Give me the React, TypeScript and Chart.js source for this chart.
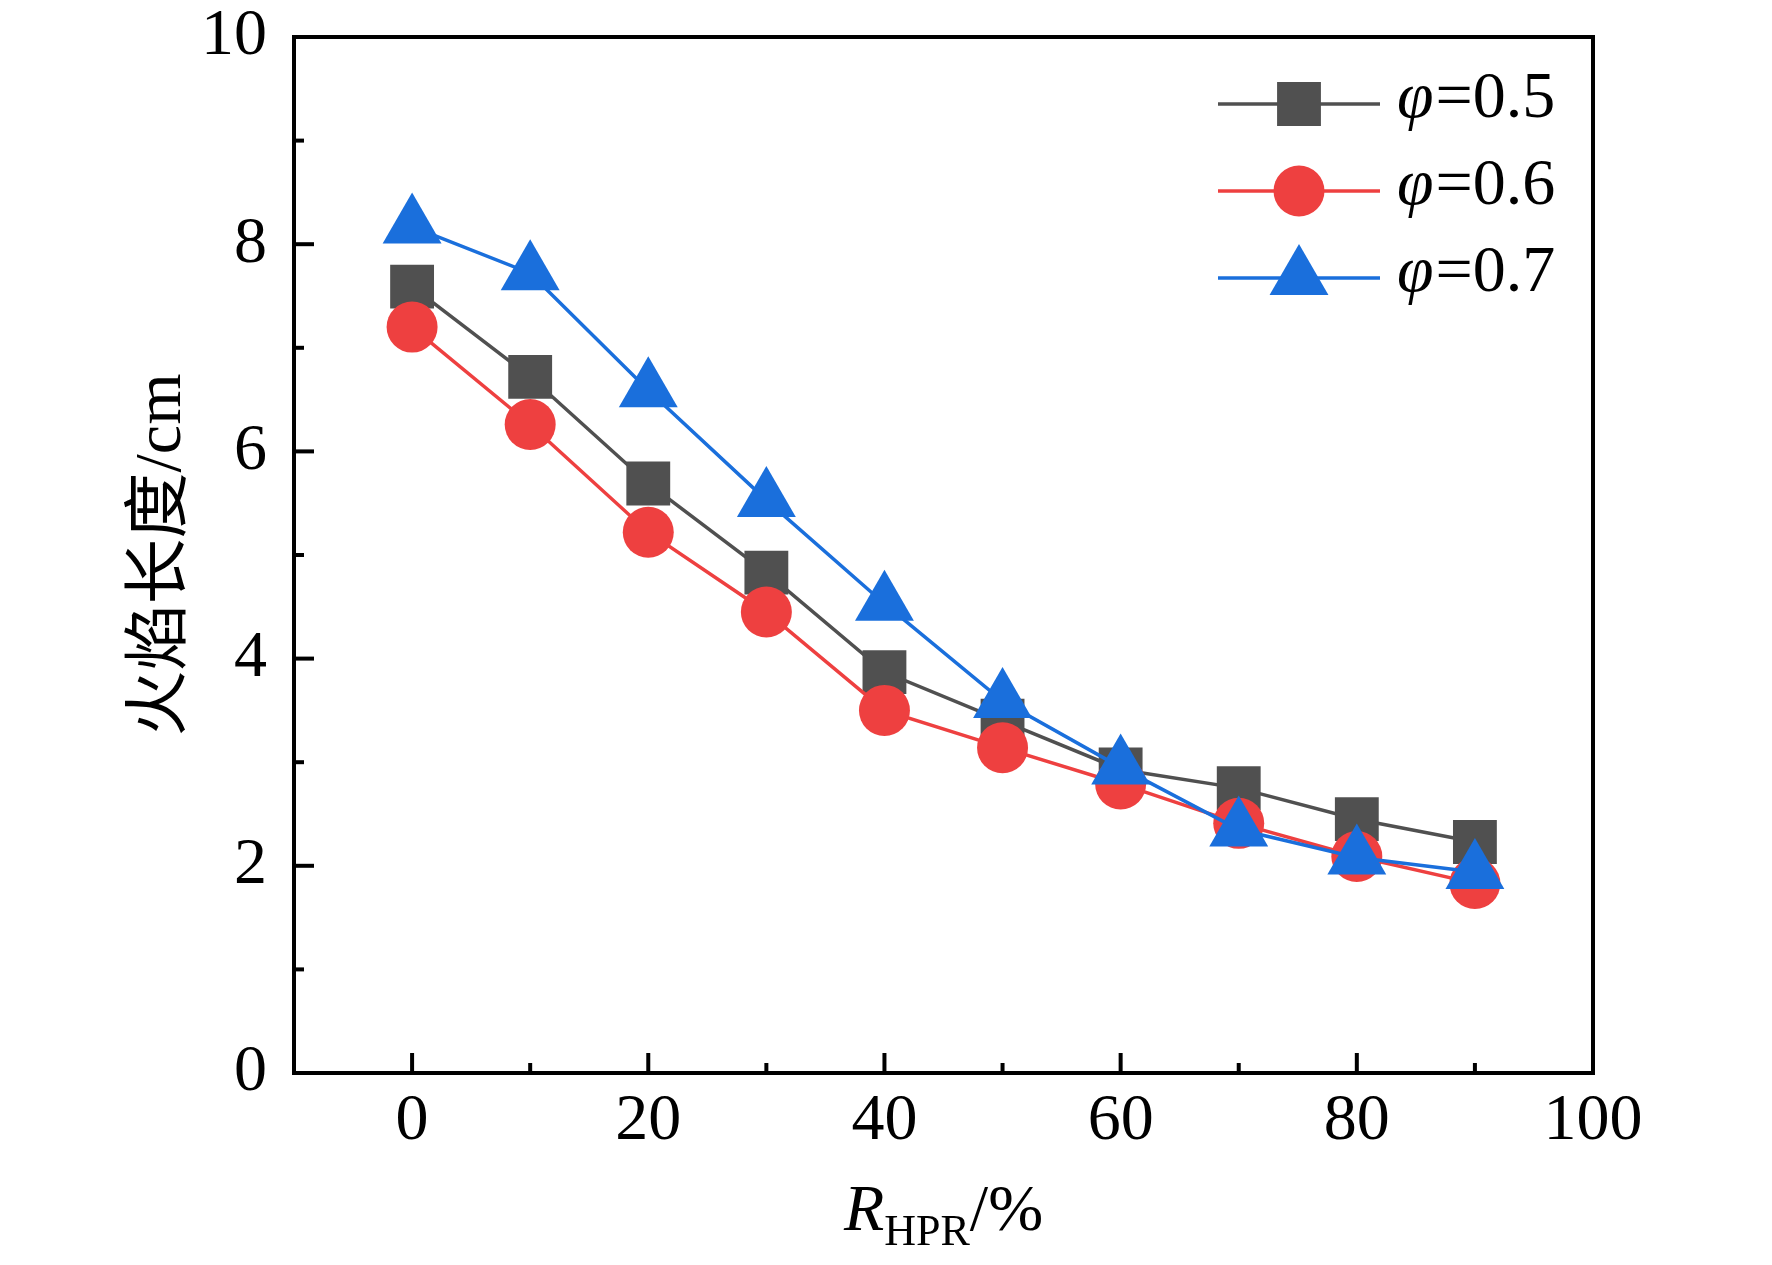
import { useEffect, useRef } from 'react';
import { Chart, registerables } from 'chart.js';
import { drawPoint } from 'chart.js/helpers';

Chart.register(...registerables);

// R_HPR (%) on the x axis
const hprRatios = [0, 10, 20, 30, 40, 50, 60, 70, 80, 90];

// flame length (cm)
const flamePhi05 = [7.59, 6.72, 5.69, 4.83, 3.87, 3.40, 2.93, 2.75, 2.45, 2.23];
const flamePhi06 = [7.20, 6.26, 5.22, 4.45, 3.50, 3.14, 2.79, 2.41, 2.09, 1.83];
const flamePhi07 = [8.17, 7.72, 6.59, 5.53, 4.53, 3.59, 2.95, 2.35, 2.08, 1.94];

const seriesLabels = ['φ=0.5', 'φ=0.6', 'φ=0.7'];
const xTickLabels = ['0', '20', '40', '60', '80', '100'];
const yTickLabels = ['0', '2', '4', '6', '8', '10'];

const SERIF = '"Liberation Serif", "Times New Roman", serif';
const CJK = '"Liberation Serif", "Noto Sans CJK SC", serif';

const framePlugin = {
  id: 'originFrame',
  afterDraw(chart: any) {
    const { ctx, chartArea: a } = chart;
    const xs = chart.scales.x;
    const ys = chart.scales.y;
    ctx.save();
    ctx.strokeStyle = '#000';
    ctx.lineWidth = 4;
    ctx.lineCap = 'butt';

    // inward ticks, long where a label is shown
    xs.ticks.forEach((t: any) => {
      const len = t.label !== '' ? 20 : 10;
      const p = xs.getPixelForValue(t.value);
      ctx.beginPath();
      ctx.moveTo(p, a.bottom);
      ctx.lineTo(p, a.bottom - len);
      ctx.stroke();
    });
    ys.ticks.forEach((t: any) => {
      const len = t.label !== '' ? 20 : 10;
      const p = ys.getPixelForValue(t.value);
      ctx.beginPath();
      ctx.moveTo(a.left, p);
      ctx.lineTo(a.left + len, p);
      ctx.stroke();
    });

    ctx.lineJoin = 'miter';
    ctx.strokeRect(a.left, a.top, a.right - a.left, a.bottom - a.top);

    // y title
    ctx.fillStyle = '#000';
    ctx.save();
    ctx.translate(163, (a.top + a.bottom) / 2);
    ctx.rotate(-Math.PI / 2);
    ctx.font = `66px ${CJK}`;
    ctx.textAlign = 'center';
    ctx.textBaseline = 'middle';
    ctx.fillText('火焰长度/cm', 0, 0);
    ctx.restore();

    // x title: R with subscript HPR
    const base = 1230;
    ctx.textBaseline = 'alphabetic';
    ctx.textAlign = 'left';
    ctx.font = `italic 66px ${SERIF}`;
    const wR = ctx.measureText('R').width;
    ctx.font = `44px ${SERIF}`;
    const wSub = ctx.measureText('HPR').width;
    ctx.font = `66px ${SERIF}`;
    const wTail = ctx.measureText('/%').width;
    let x = (a.left + a.right) / 2 - (wR + wSub + wTail) / 2;
    ctx.font = `italic 66px ${SERIF}`;
    ctx.fillText('R', x, base);
    x += wR;
    ctx.font = `44px ${SERIF}`;
    ctx.fillText('HPR', x, base + 15);
    x += wSub;
    ctx.font = `66px ${SERIF}`;
    ctx.fillText('/%', x, base);

    // legend
    chart.data.datasets.forEach((ds: any, i: number) => {
      const y = 104 + i * 87;
      ctx.strokeStyle = ds.borderColor;
      ctx.lineWidth = ds.borderWidth;
      ctx.beginPath();
      ctx.moveTo(1218, y);
      ctx.lineTo(1380, y);
      ctx.stroke();
      ctx.fillStyle = ds.pointBackgroundColor;
      drawPoint(ctx, { pointStyle: ds.pointStyle, radius: ds.pointRadius, rotation: 0, borderWidth: 0 } as any, 1299, y);
      ctx.fillStyle = '#000';
      const label: string = ds.label;
      let tx = 1397;
      ctx.font = `italic 66px ${SERIF}`;
      ctx.fillText(label[0], tx, y + 13);
      tx += ctx.measureText(label[0]).width + 2;
      ctx.font = `66px ${SERIF}`;
      ctx.fillText(label.slice(1), tx, y + 13);
    });
    ctx.restore();
  },
};

export default function App() {
  const canvasRef = useRef<HTMLCanvasElement>(null);
  const chartRef = useRef<Chart | null>(null);

  useEffect(() => {
    if (!canvasRef.current) return;
    const ctx = canvasRef.current.getContext('2d');
    if (!ctx) return;

    if (chartRef.current) chartRef.current.destroy();

    const series = [
      { values: flamePhi05, color: '#505050', style: 'rect', radius: 31, order: 3 },
      { values: flamePhi06, color: '#ee4040', style: 'circle', radius: 25.5, order: 2 },
      { values: flamePhi07, color: '#1a6fdc', style: 'triangle', radius: 34, order: 1 },
    ];

    chartRef.current = new Chart(ctx, {
      type: 'line',
      data: {
        datasets: series.map((s, i) => ({
          label: seriesLabels[i],
          data: hprRatios.map((x, j) => ({ x, y: s.values[j] })),
          borderColor: s.color,
          backgroundColor: s.color,
          borderWidth: 3.5,
          pointStyle: s.style,
          pointRadius: s.radius,
          pointBackgroundColor: s.color,
          pointBorderWidth: 0,
          pointHoverRadius: s.radius,
          order: s.order,
          tension: 0,
        })),
      },
      options: {
        animation: false,
        responsive: true,
        maintainAspectRatio: false,
        layout: {
          padding: { left: 0, top: 37, right: 179, bottom: 0 },
        },
        plugins: {
          legend: { display: false },
          tooltip: { enabled: false },
        },
        scales: {
          x: {
            type: 'linear',
            min: -10,
            max: 100,
            grid: { display: false, drawTicks: false },
            border: { display: false },
            ticks: {
              stepSize: 10,
              autoSkip: false,
              maxRotation: 0,
              padding: 16,
              color: '#000',
              font: { family: SERIF, size: 66, lineHeight: 1 },
              callback: (v: any) => (xTickLabels.includes(String(v)) ? String(v) : ''),
            },
            afterFit: (scale: any) => {
              scale.height = 192;
              scale.paddingLeft = 0;
              scale.paddingRight = 0;
            },
          },
          y: {
            type: 'linear',
            min: 0,
            max: 10,
            grid: { display: false, drawTicks: false },
            border: { display: false },
            ticks: {
              stepSize: 1,
              autoSkip: false,
              padding: 27,
              color: '#000',
              font: { family: SERIF, size: 66, lineHeight: 1 },
              callback: (v: any) => (yTickLabels.includes(String(v)) ? String(v) : ''),
            },
            afterFit: (scale: any) => {
              scale.width = 294;
              scale.paddingTop = 0;
              scale.paddingBottom = 0;
            },
          },
        },
      },
      plugins: [framePlugin],
    } as any);

    return () => {
      if (chartRef.current) {
        chartRef.current.destroy();
        chartRef.current = null;
      }
    };
  }, []);

  return (
    <div style={{ position: 'fixed', left: 0, top: 0, width: 1772, height: 1265, background: '#fff' }}>
      <canvas ref={canvasRef} />
    </div>
  );
}
